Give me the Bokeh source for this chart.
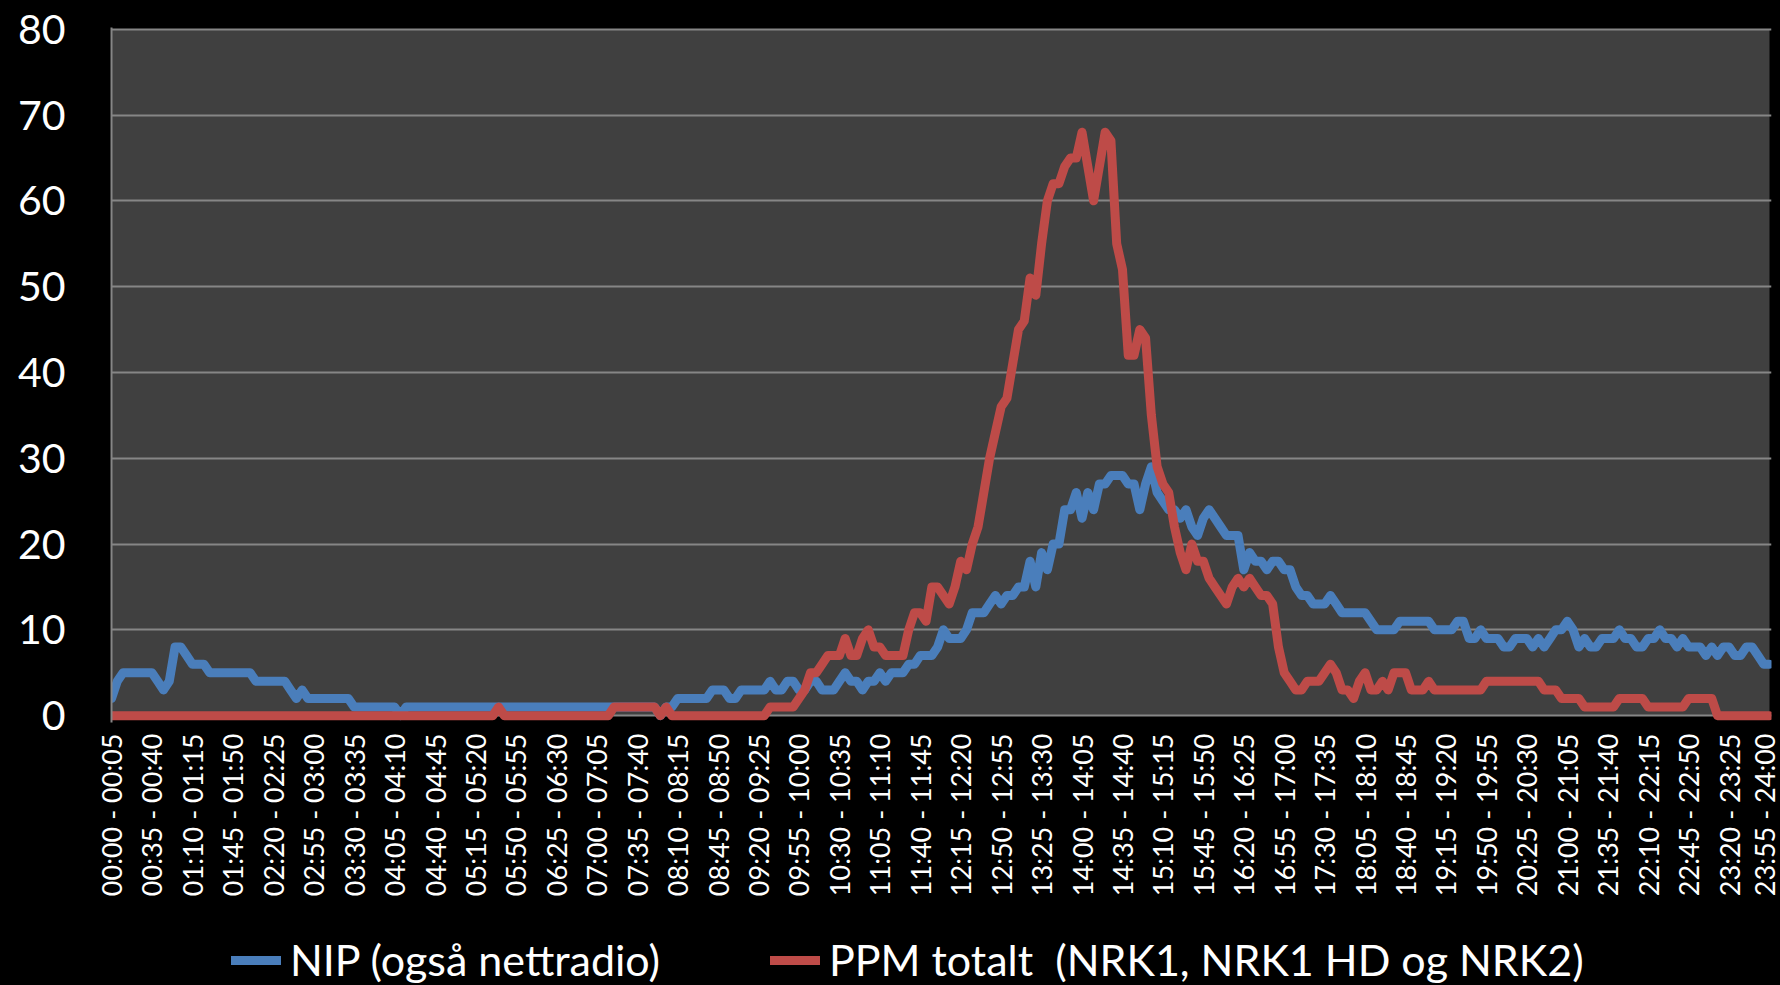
import numpy as np
from bokeh.plotting import figure
from bokeh.layouts import column
from bokeh.models import (Range1d, FixedTicker, BoxAnnotation, Legend, LegendItem,
                          Plot, ColumnDataSource, Line)
from bokeh.embed import file_html
from bokeh.resources import INLINE

# 5-minute slots over the day (category labels)
slots = [f"{m // 60:02d}:{m % 60:02d} - {(m + 5) // 60:02d}:{(m + 5) % 60:02d}" for m in range(0, 1440, 5)]

# NIP (også nettradio)
nip = [
    2, 4, 5, 5, 5, 5, 5, 5, 4, 3,
    4, 8, 8, 7, 6, 6, 6, 5, 5, 5,
    5, 5, 5, 5, 5, 4, 4, 4, 4, 4,
    4, 3, 2, 3, 2, 2, 2, 2, 2, 2,
    2, 2, 1, 1, 1, 1, 1, 1, 1, 1,
    0, 1, 1, 1, 1, 1, 1, 1, 1, 1,
    1, 1, 1, 1, 1, 1, 1, 1, 1, 1,
    1, 1, 1, 1, 1, 1, 1, 1, 1, 1,
    1, 1, 1, 1, 1, 1, 1, 1, 1, 1,
    1, 1, 1, 1, 1, 0, 1, 1, 2, 2,
    2, 2, 2, 2, 3, 3, 3, 2, 2, 3,
    3, 3, 3, 3, 4, 3, 3, 4, 4, 3,
    3, 4, 4, 3, 3, 3, 4, 5, 4, 4,
    3, 4, 4, 5, 4, 5, 5, 5, 6, 6,
    7, 7, 7, 8, 10, 9, 9, 9, 10, 12,
    12, 12, 13, 14, 13, 14, 14, 15, 15, 18,
    15, 19, 17, 20, 20, 24, 24, 26, 23, 26,
    24, 27, 27, 28, 28, 28, 27, 27, 24, 27,
    29, 26, 25, 24, 24, 23, 24, 22, 21, 23,
    24, 23, 22, 21, 21, 21, 17, 19, 18, 18,
    17, 18, 18, 17, 17, 15, 14, 14, 13, 13,
    13, 14, 13, 12, 12, 12, 12, 12, 11, 10,
    10, 10, 10, 11, 11, 11, 11, 11, 11, 10,
    10, 10, 10, 11, 11, 9, 9, 10, 9, 9,
    9, 8, 8, 9, 9, 9, 8, 9, 8, 9,
    10, 10, 11, 10, 8, 9, 8, 8, 9, 9,
    9, 10, 9, 9, 8, 8, 9, 9, 10, 9,
    9, 8, 9, 8, 8, 8, 7, 8, 7, 8,
    8, 7, 7, 8, 8, 7, 6, 6,
]

# PPM totalt (NRK1, NRK1 HD og NRK2)
ppm = [
    0, 0, 0, 0, 0, 0, 0, 0, 0, 0,
    0, 0, 0, 0, 0, 0, 0, 0, 0, 0,
    0, 0, 0, 0, 0, 0, 0, 0, 0, 0,
    0, 0, 0, 0, 0, 0, 0, 0, 0, 0,
    0, 0, 0, 0, 0, 0, 0, 0, 0, 0,
    0, 0, 0, 0, 0, 0, 0, 0, 0, 0,
    0, 0, 0, 0, 0, 0, 0, 1, 0, 0,
    0, 0, 0, 0, 0, 0, 0, 0, 0, 0,
    0, 0, 0, 0, 0, 0, 0, 1, 1, 1,
    1, 1, 1, 1, 1, 0, 1, 0, 0, 0,
    0, 0, 0, 0, 0, 0, 0, 0, 0, 0,
    0, 0, 0, 0, 1, 1, 1, 1, 1, 2,
    3, 5, 5, 6, 7, 7, 7, 9, 7, 7,
    9, 10, 8, 8, 7, 7, 7, 7, 10, 12,
    12, 11, 15, 15, 14, 13, 15, 18, 17, 20,
    22, 26, 30, 33, 36, 37, 41, 45, 46, 51,
    49, 55, 60, 62, 62, 64, 65, 65, 68, 64,
    60, 64, 68, 67, 55, 52, 42, 42, 45, 44,
    35, 29, 27, 26, 22, 19, 17, 20, 18, 18,
    16, 15, 14, 13, 15, 16, 15, 16, 15, 14,
    14, 13, 8, 5, 4, 3, 3, 4, 4, 4,
    5, 6, 5, 3, 3, 2, 4, 5, 3, 3,
    4, 3, 5, 5, 5, 3, 3, 3, 4, 3,
    3, 3, 3, 3, 3, 3, 3, 3, 4, 4,
    4, 4, 4, 4, 4, 4, 4, 4, 3, 3,
    3, 2, 2, 2, 2, 1, 1, 1, 1, 1,
    1, 2, 2, 2, 2, 2, 1, 1, 1, 1,
    1, 1, 1, 2, 2, 2, 2, 2, 0, 0,
    0, 0, 0, 0, 0, 0, 0, 0,
]

series_names = ["NIP (også nettradio)", "PPM totalt \u00a0(NRK1, NRK1 HD og NRK2)"]
series_colors = ["#4A7EBB", "#BE4B48"]
y_ticks = list(range(0, 81, 10))
label_step = 7

x = list(range(len(slots)))
last = len(slots) - 1

FONT = "Lato"
GRID = "#868686"
BLACK = "#000000"
W = 1780
H_MAIN = 905
H_LEG = 80

p = figure(
    width=W, height=H_MAIN,
    x_range=Range1d(0, last + 2 * last / 1658),
    y_range=Range1d(-0.8, 80.2),
    output_backend="svg", toolbar_location=None,
    min_border_left=111, min_border_right=9,
    min_border_top=27, min_border_bottom=H_MAIN - 27 - 695,
)
p.background_fill_color = BLACK
p.border_fill_color = BLACK
p.outline_line_color = None
p.styles = {"background-color": BLACK}

# plot area fill (0..80, first..last category)
p.add_layout(BoxAnnotation(left=0, right=last, bottom=0, top=80,
                           fill_color="#404040", fill_alpha=1.0,
                           line_color=None, level="image"))

p.xgrid.grid_line_color = None
p.ygrid.ticker = FixedTicker(ticks=y_ticks)
p.ygrid.grid_line_color = GRID
p.ygrid.grid_line_width = 2

line_kw = dict(line_width=9, line_join="round", line_cap="round")
r1 = p.line(x, nip, color=series_colors[0], **line_kw)
r2 = p.line(x, ppm, color=series_colors[1], **line_kw)

# y axis
ya = p.yaxis[0]
ya.ticker = FixedTicker(ticks=y_ticks)
ya.axis_line_color = GRID
ya.axis_line_width = 2
ya.major_tick_line_color = None
ya.minor_tick_line_color = None
ya.major_label_text_color = "#FFFFFF"
ya.major_label_text_font = FONT
ya.major_label_text_font_size = "41px"
ya.major_label_standoff = 40

# x axis
xa = p.xaxis[0]
tick_pos = list(range(0, len(slots), label_step))
xa.ticker = FixedTicker(ticks=tick_pos)
xa.major_label_overrides = {i: slots[i] for i in tick_pos}
xa.major_label_orientation = np.pi / 2
xa.axis_line_color = None
xa.major_tick_line_color = None
xa.minor_tick_line_color = None
xa.major_tick_out = 0
xa.major_tick_in = 0
xa.major_label_text_color = "#FFFFFF"
xa.major_label_text_font = FONT
xa.major_label_text_font_size = "27px"
xa.major_label_standoff = 11

# legend strip under the chart: a bare Plot whose series lie outside its
# visible range, so only the legend samples show
p2 = Plot(
    width=W, height=H_LEG,
    x_range=Range1d(1000, 1001), y_range=Range1d(1000, 1001),
    output_backend="svg", toolbar_location=None,
    min_border_left=0, min_border_right=0,
    min_border_top=0, min_border_bottom=0,
    outline_line_color=None,
    background_fill_color=BLACK, border_fill_color=BLACK,
)
p2.styles = {"background-color": BLACK}
g1 = p2.add_glyph(ColumnDataSource(dict(x=x, y=nip)),
                  Line(x="x", y="y", line_color=series_colors[0], **line_kw))
g2 = p2.add_glyph(ColumnDataSource(dict(x=x, y=ppm)),
                  Line(x="x", y="y", line_color=series_colors[1], **line_kw))

legend = Legend(
    items=[LegendItem(label=series_names[0], renderers=[g1]),
           LegendItem(label=series_names[1], renderers=[g2])],
    orientation="horizontal",
    location=(120, 0),
    glyph_width=50, glyph_height=20,
    label_standoff=9, spacing=110,
    padding=0, margin=0,
    border_line_color=None, background_fill_alpha=0,
    label_text_color="#FFFFFF", label_text_font=FONT,
    label_text_font_size="43px",
)
p2.add_layout(legend)

layout = column(p, p2, spacing=0)
layout.styles = {"background-color": BLACK}

html = file_html(layout, INLINE, title="NIP vs PPM")
html = html.replace("</head>", "<style>html, body { background-color: #000000; }</style></head>", 1)
open("out.html", "w").write(html)
